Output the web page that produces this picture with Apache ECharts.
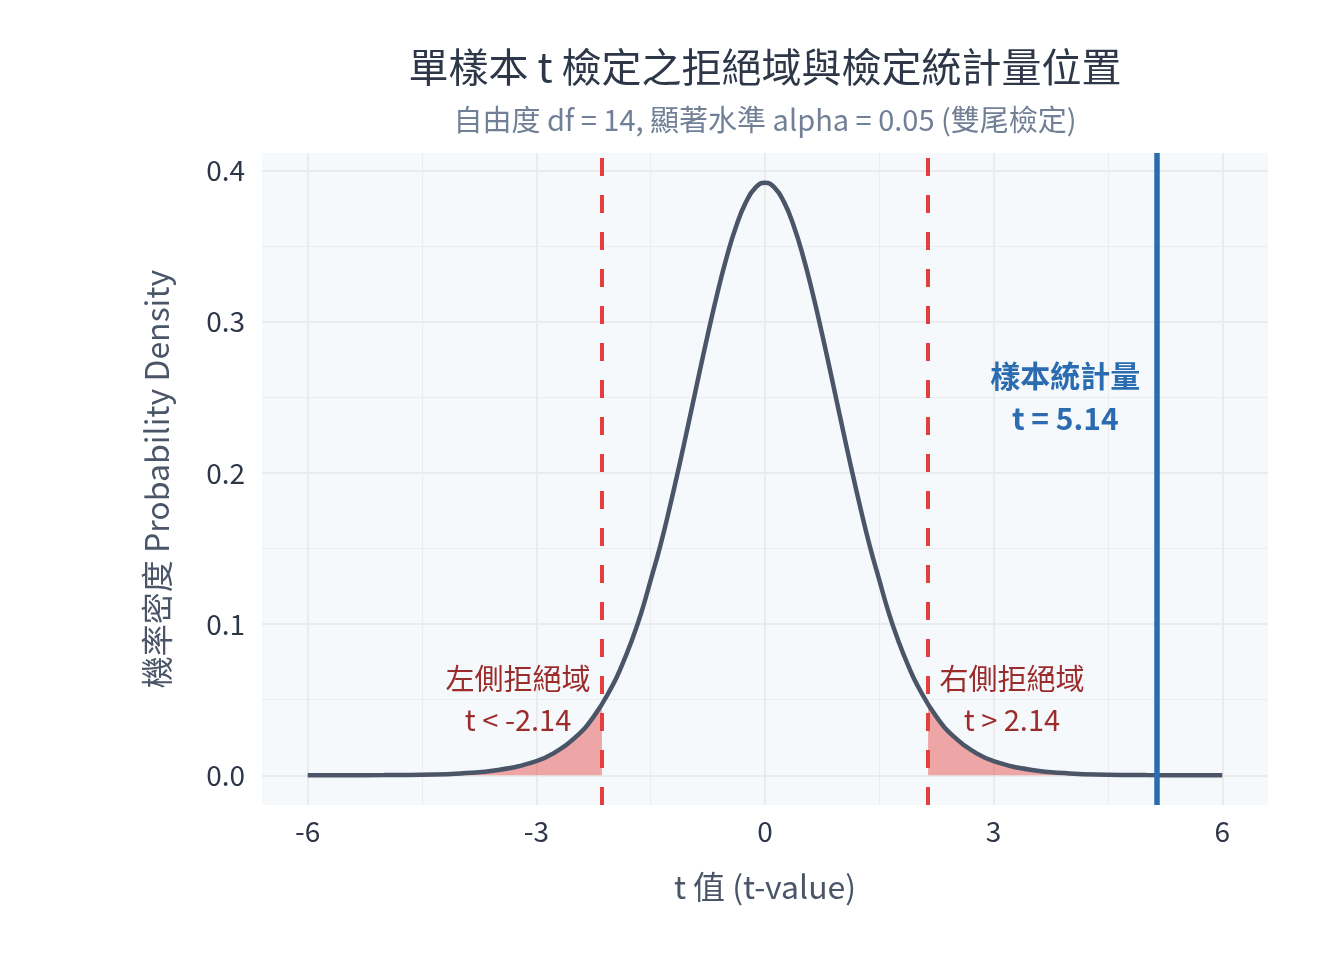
<!DOCTYPE html>
<html>
<head>
<meta charset="utf-8">
<script src="https://cdn.jsdelivr.net/npm/echarts@6/dist/echarts.min.js"></script>
<style>
html,body{margin:0;padding:0;background:#fff;}
#chart{width:1344px;height:960px;}
</style>
</head>
<body>
<div id="chart"></div>
<script>
// ---- data ----
const curveT = [-6,-5.5,-5,-4.5,-4,-3.5,-3,-2.75,-2.5,-2.25,-2,-1.875,-1.75,-1.625,-1.5,-1.375,-1.25,-1.125,-1,-0.875,-0.75,-0.625,-0.5,-0.375,-0.25,-0.125,0,0.125,0.25,0.375,0.5,0.625,0.75,0.875,1,1.125,1.25,1.375,1.5,1.625,1.75,1.875,2,2.25,2.5,2.75,3,3.5,4,4.5,5,5.5,6];
const curveDensity = [0.00003,0.00007,0.00018,0.00048,0.00129,0.00351,0.00947,0.01536,0.0246,0.03871,0.05951,0.07301,0.08888,0.10724,0.12911,0.15155,0.17722,0.20477,0.23359,0.26287,0.29166,0.31881,0.34317,0.36359,0.37902,0.38862,0.39189,0.38862,0.37902,0.36359,0.34317,0.31881,0.29166,0.26287,0.23359,0.20477,0.17722,0.15155,0.12911,0.10724,0.08888,0.07301,0.05951,0.03871,0.0246,0.01536,0.00947,0.00351,0.00129,0.00048,0.00018,0.00007,0.00003];
const leftTailT = [-6,-5.5,-5,-4.5,-4,-3.5,-3,-2.75,-2.5,-2.25,-2.14];
const leftTailDensity = [0.00003,0.00007,0.00018,0.00048,0.00129,0.00351,0.00947,0.01536,0.0246,0.03871,0.04691];
const rightTailT = [2.14,2.25,2.5,2.75,3,3.5,4,4.5,5,5.5,6];
const rightTailDensity = [0.04691,0.03871,0.0246,0.01536,0.00947,0.00351,0.00129,0.00048,0.00018,0.00007,0.00003];
const criticalValues = [-2.14, 2.14];
const sampleStat = 5.14;
const xTicks = [-6,-3,0,3,6];
const xMinorTicks = [-4.5,-1.5,1.5,4.5];
const yTicks = [0,0.1,0.2,0.3,0.4];
const yMinorTicks = [0.05,0.15,0.25,0.35];
const annoPos = [[-3.24,0.05],[3.24,0.05],[3.94,0.25]];
const annoText = ['左側拒絕域\nt < -2.14','右側拒絕域\nt > 2.14','樣本統計量\nt = 5.14'];
const titleText = '單樣本 t 檢定之拒絕域與檢定統計量位置';
const subtitleText = '自由度 df = 14, 顯著水準 alpha = 0.05 (雙尾檢定)';

const FONT = '"Noto Sans CJK TC", "Noto Sans", sans-serif';
const zip = (a,b) => a.map((v,i)=>[v,b[i]]);
const X_MIN=-6.6, X_MAX=6.6, Y_MIN=-0.0196, Y_MAX=0.4115;

const chart = echarts.init(document.getElementById('chart'));
const axisCommon = {
  type:'value', axisLine:{show:false}, axisTick:{show:false}
};
chart.setOption({
  animation:false,
  backgroundColor:'#ffffff',
  title:[
    {text:titleText,left:765,top:47,textAlign:'center',padding:0,
     textStyle:{fontFamily:FONT,fontSize:40,fontWeight:'normal',color:'#2d3748'}},
    {text:subtitleText,left:765,top:105,textAlign:'center',padding:0,
     textStyle:{fontFamily:FONT,fontSize:29,fontWeight:'normal',color:'#718096'}}
  ],
  grid:{left:262,right:76,top:153,bottom:155,show:true,backgroundColor:'#f6f9fc',borderWidth:0},
  xAxis:[
    Object.assign({},axisCommon,{min:X_MIN,max:X_MAX,
      name:'t 值 (t-value)',nameLocation:'middle',nameGap:66,
      nameTextStyle:{fontFamily:FONT,fontSize:32,color:'#4a5568'},
      axisTick:{show:false,customValues:xTicks},
      axisLabel:{customValues:xTicks,margin:12,fontFamily:FONT,fontSize:28,color:'#2d3748'},
      splitLine:{show:true,lineStyle:{color:'#ebebeb',width:2}}}),
    Object.assign({},axisCommon,{min:X_MIN,max:X_MAX,position:'top',
      axisTick:{show:false,customValues:xMinorTicks},
      axisLabel:{show:false,customValues:xMinorTicks},
      splitLine:{show:true,lineStyle:{color:'#ececec',width:1}}})
  ],
  yAxis:[
    Object.assign({},axisCommon,{min:Y_MIN,max:Y_MAX,
      name:'機率密度 Probability Density',nameLocation:'middle',nameGap:89,
      nameTextStyle:{fontFamily:FONT,fontSize:32,color:'#4a5568'},
      axisTick:{show:false,customValues:yTicks},
      axisLabel:{customValues:yTicks,margin:17,fontFamily:FONT,fontSize:28,color:'#2d3748',
        formatter:v=>v.toFixed(1)},
      splitLine:{show:true,lineStyle:{color:'#ebebeb',width:2}}}),
    Object.assign({},axisCommon,{min:Y_MIN,max:Y_MAX,position:'right',
      axisTick:{show:false,customValues:yMinorTicks},
      axisLabel:{show:false,customValues:yMinorTicks},
      splitLine:{show:true,lineStyle:{color:'#ececec',width:1}}})
  ],
  series:[
    {type:'line',data:zip(leftTailT,leftTailDensity),smooth:true,showSymbol:false,
     lineStyle:{width:1,color:'rgba(229,62,62,0.5)'},areaStyle:{color:'rgba(229,62,62,0.45)',opacity:1},z:2},
    {type:'line',data:zip(rightTailT,rightTailDensity),smooth:true,showSymbol:false,
     lineStyle:{width:1,color:'rgba(229,62,62,0.5)'},areaStyle:{color:'rgba(229,62,62,0.45)',opacity:1},z:2},
    {type:'line',data:zip(curveT,curveDensity),smooth:true,showSymbol:false,
     lineStyle:{width:4.5,color:'#4a5568'},z:3,
     markLine:{silent:true,symbol:['none','none'],label:{show:false},
       lineStyle:{color:'#e53e3e',width:4,type:[18,19],opacity:1},
       data:criticalValues.map(v=>({xAxis:v}))}},
    {type:'line',data:[],z:4,
     markLine:{silent:true,symbol:['none','none'],label:{show:false},
       lineStyle:{color:'#2b6cb0',width:5.5,type:'solid',opacity:1},
       data:[{xAxis:sampleStat}]}},
    {type:'scatter',symbolSize:0,z:5,silent:true,itemStyle:{opacity:1},
     data:annoPos.map((p,i)=>({value:p,
       label:{show:true,position:'inside',formatter:annoText[i],opacity:1,
         fontFamily:FONT,fontSize:i===2?30:29,lineHeight:i===2?43:41,
         fontWeight:i===2?'bold':'normal',color:i===2?'#2b6cb0':'#9b2c2c'}}))}
  ]
});
</script>
</body>
</html>
